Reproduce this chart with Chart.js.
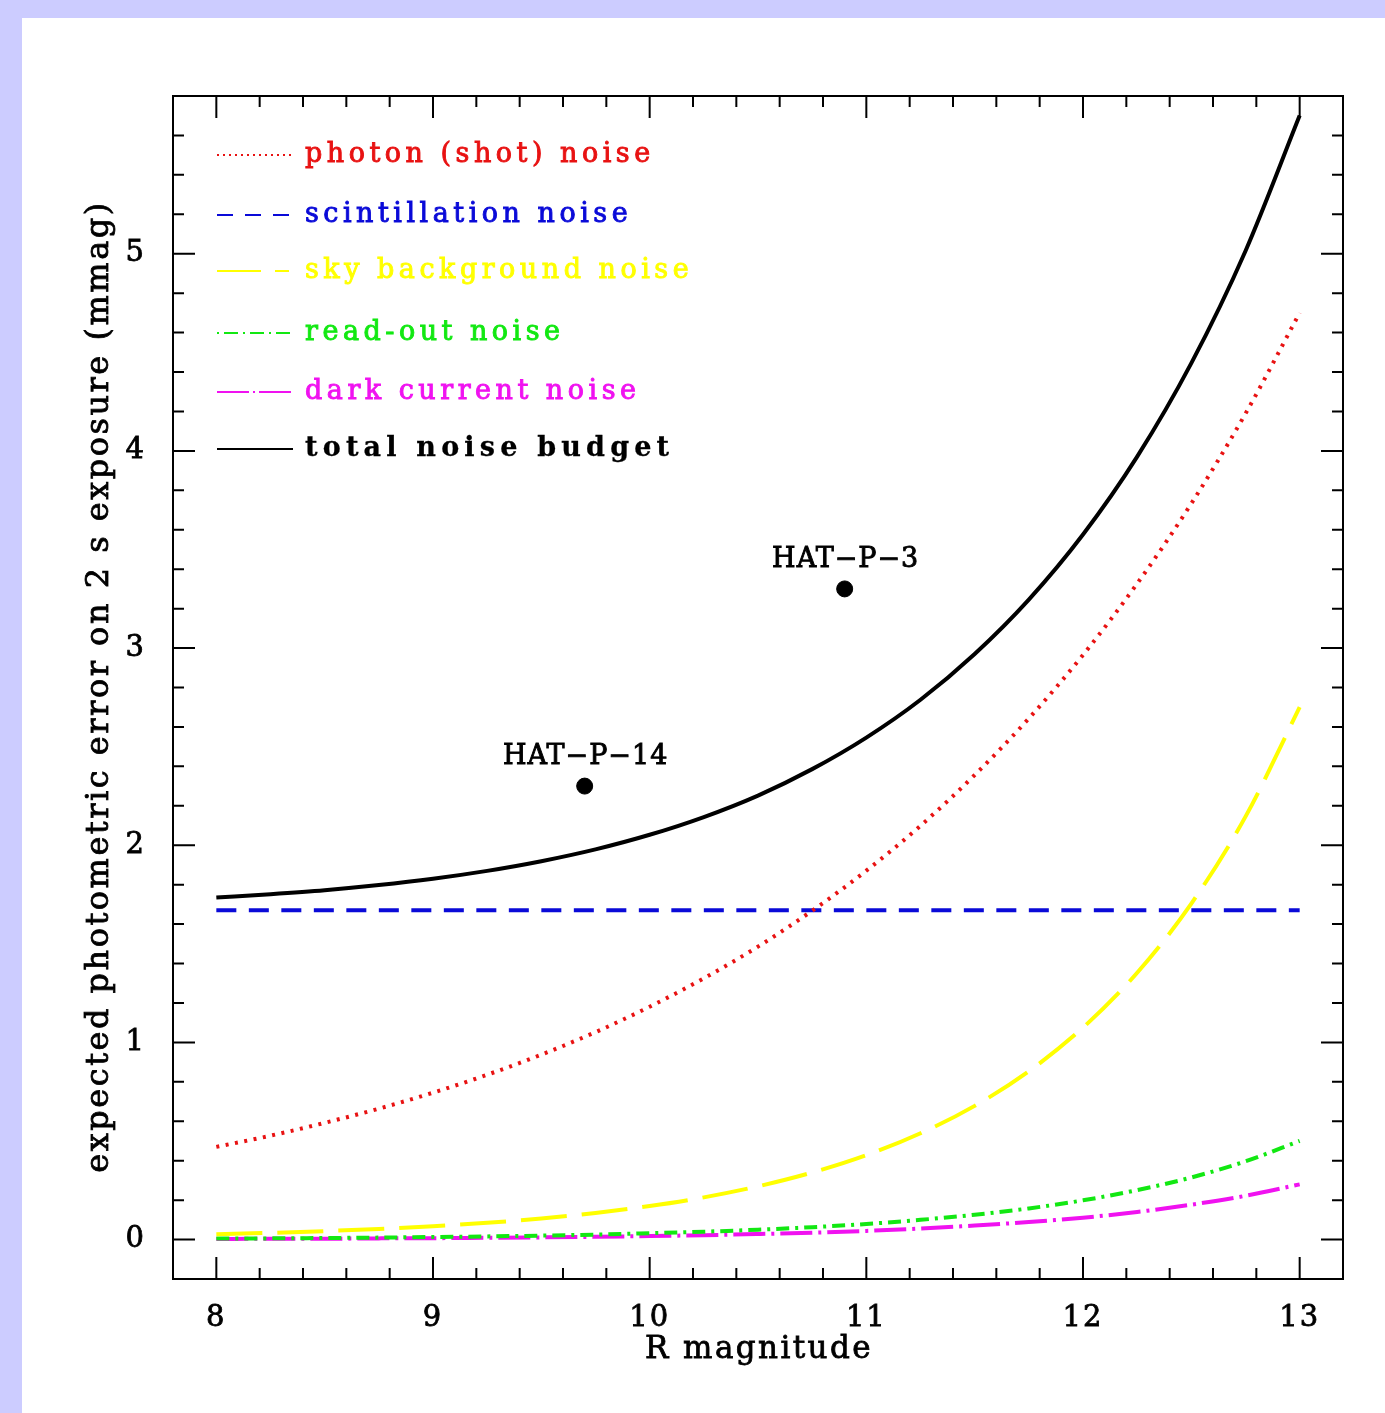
<!DOCTYPE html>
<html>
<head>
<meta charset="utf-8">
<script src="https://cdn.jsdelivr.net/npm/chart.js@4"></script>
<style>
  html, body { margin: 0; padding: 0; background: #ccccff; }
  canvas { display: block; }
</style>
</head>
<body>
<canvas id="noise" width="1385" height="1413"></canvas>
<script>
// R magnitude grid
const mags = [8, 8.25, 8.5, 8.75, 9, 9.25, 9.5, 9.75, 10, 10.25, 10.5, 10.75,
  11, 11.25, 11.5, 11.75, 12, 12.25, 12.5, 12.75, 13];

// noise terms in mmag
const photon = [0.470, 0.527, 0.592, 0.664, 0.745, 0.836, 0.938, 1.052, 1.181, 1.325, 1.486, 1.668,
  1.871, 2.099, 2.356, 2.643, 2.965, 3.327, 3.733, 4.189, 4.700];
const scint = [1.67, 1.67, 1.67, 1.67, 1.67, 1.67, 1.67, 1.67, 1.67, 1.67, 1.67, 1.67,
  1.67, 1.67, 1.67, 1.67, 1.67, 1.67, 1.67, 1.67, 1.67];
const sky = [0.027, 0.034, 0.043, 0.054, 0.068, 0.085, 0.107, 0.135, 0.170, 0.214, 0.270, 0.340,
  0.428, 0.539, 0.678, 0.854, 1.075, 1.353, 1.704, 2.145, 2.700];
const readout = [0.005, 0.006, 0.008, 0.010, 0.013, 0.016, 0.020, 0.025, 0.032, 0.040, 0.050, 0.063,
  0.079, 0.100, 0.126, 0.158, 0.199, 0.251, 0.315, 0.397, 0.500];
const dark = [0.003, 0.004, 0.004, 0.006, 0.007, 0.009, 0.011, 0.014, 0.018, 0.022, 0.028, 0.035,
  0.044, 0.056, 0.071, 0.089, 0.111, 0.140, 0.177, 0.222, 0.280];
const total = [1.735, 1.752, 1.772, 1.798, 1.830, 1.870, 1.919, 1.979, 2.053, 2.143, 2.252, 2.386,
  2.546, 2.738, 2.970, 3.246, 3.576, 3.971, 4.445, 5.014, 5.701];

// measured targets
const hatNames = ["HAT−P−14", "HAT−P−3"];
const hatMag = [9.7, 10.9];
const hatErr = [2.3, 3.3];

const xTicks = [8, 9, 10, 11, 12, 13];
const yTicks = [0, 1, 2, 3, 4, 5];

const xTitle = "R magnitude";
const yTitle = "expected photometric error on 2 s exposure (mmag)";

const FONT = "'DejaVu Serif', serif";

function pts(ys) {
  return mags.map((m, i) => ({ x: m, y: ys[i] }));
}

function curve(label, ys, color, dash, legendDash) {
  return {
    label: label,
    data: pts(ys),
    borderColor: color,
    backgroundColor: color,
    borderWidth: 4,
    borderDash: dash,
    legendDash: legendDash,
    pointRadius: 0,
    cubicInterpolationMode: "monotone",
    fill: false,
  };
}

// text with a hairline stroke so it looks as heavy as the plotted font
function heavyText(ctx, s, x, y, color, w) {
  ctx.fillStyle = color;
  ctx.strokeStyle = color;
  ctx.lineWidth = w;
  ctx.fillText(s, x, y);
  ctx.strokeText(s, x, y);
}

// page background and white panel
const backdrop = {
  id: "backdrop",
  beforeDraw(chart) {
    const ctx = chart.ctx;
    ctx.save();
    ctx.fillStyle = "#ccccff";
    ctx.fillRect(0, 0, chart.width, chart.height);
    ctx.fillStyle = "#ffffff";
    ctx.fillRect(22, 18, chart.width - 22, chart.height - 18);
    ctx.restore();
    ctx.letterSpacing = "2px";
  },
};

// box frame with inward ticks on all four sides, plus axis titles
const frame = {
  id: "frame",
  afterDraw(chart) {
    const { ctx, chartArea: a, scales } = chart;
    const xs = scales.x, ys = scales.y;
    ctx.save();
    ctx.strokeStyle = "#000";
    ctx.lineWidth = 2;
    ctx.strokeRect(a.left, a.top, a.right - a.left, a.bottom - a.top);
    ctx.beginPath();
    for (let i = 39; i <= 66; i++) {
      const px = xs.getPixelForValue(i / 5);
      const len = i % 5 === 0 ? 22 : 11;
      ctx.moveTo(px, a.bottom); ctx.lineTo(px, a.bottom - len);
      ctx.moveTo(px, a.top); ctx.lineTo(px, a.top + len);
    }
    for (let i = -1; i <= 29; i++) {
      const py = ys.getPixelForValue(i / 5);
      const len = i % 5 === 0 ? 22 : 11;
      ctx.moveTo(a.left, py); ctx.lineTo(a.left + len, py);
      ctx.moveTo(a.right, py); ctx.lineTo(a.right - len, py);
    }
    ctx.stroke();

    ctx.textAlign = "center";
    ctx.textBaseline = "middle";
    ctx.letterSpacing = "2.4px";
    ctx.font = "31px " + FONT;
    heavyText(ctx, xTitle, (a.left + a.right) / 2 + 1, 1350, "#000", 0.8);

    ctx.save();
    ctx.translate(100, (a.top + a.bottom) / 2);
    ctx.rotate(-Math.PI / 2);
    ctx.letterSpacing = "2.5px";
    ctx.font = "32px " + FONT;
    heavyText(ctx, yTitle, 1, 0, "#000", 0.8);
    ctx.restore();
    ctx.restore();
  },
};

// legend in the upper left and labels over the two targets
const notes = {
  id: "notes",
  afterDatasetsDraw(chart) {
    const { ctx, chartArea: a, scales } = chart;
    ctx.save();
    ctx.textBaseline = "middle";
    ctx.textAlign = "left";
    const rows = [59, 119, 175, 237, 296, 353];
    rows.forEach((dy, di) => {
      const ds = chart.data.datasets[di];
      const y = a.top + dy;
      ctx.strokeStyle = ds.borderColor;
      ctx.lineWidth = 2;
      ctx.setLineDash(ds.legendDash || []);
      ctx.beginPath();
      ctx.moveTo(a.left + 44, y);
      ctx.lineTo(a.left + 120, y);
      ctx.stroke();
      ctx.setLineDash([]);
      const bold = di === 5;
      ctx.letterSpacing = bold ? "5.2px" : "4.5px";
      ctx.font = (bold ? "bold " : "") + "27px " + FONT;
      heavyText(ctx, ds.label, a.left + 132, y, ds.borderColor, bold ? 0.3 : 0.9);
    });

    ctx.letterSpacing = "1px";
    ctx.font = "27px " + FONT;
    ctx.textAlign = "center";
    hatNames.forEach((n, i) => {
      const px = scales.x.getPixelForValue(hatMag[i]);
      const py = scales.y.getPixelForValue(hatErr[i]);
      heavyText(ctx, n, px + 1, py - 29, "#000", 0.9);
    });
    ctx.restore();
  },
};

const datasets = [
  curve("photon (shot) noise", photon, "#e81212", [3, 6.5], [2, 4]),
  curve("scintillation noise", scint, "#0a0ad8", [20, 12.5], [16, 12]),
  curve("sky background noise", sky, "#ffff00", [46, 15], [44, 14, 14, 40]),
  curve("read-out noise", readout, "#12e812", [13, 6, 3, 6], [2, 5, 14, 5]),
  curve("dark current noise", dark, "#f012f0", [32, 6, 3, 6], [32, 4, 2, 4]),
  curve("total noise budget", total, "#000000", [], []),
  {
    label: "targets",
    data: hatMag.map((m, i) => ({ x: m, y: hatErr[i] })),
    showLine: false,
    pointRadius: 8,
    pointStyle: "circle",
    backgroundColor: "#000",
    borderColor: "#000",
  },
];

new Chart("noise", {
  type: "line",
  data: { datasets: datasets },
  options: {
    responsive: false,
    animation: false,
    devicePixelRatio: 1,
    layout: { padding: { left: 0, top: 96, right: 42, bottom: 0 } },
    plugins: {
      legend: { display: false },
      tooltip: { enabled: false },
    },
    scales: {
      x: {
        type: "linear",
        min: 7.8,
        max: 13.2,
        grid: { display: false },
        border: { display: false },
        afterBuildTicks: (s) => { s.ticks = xTicks.map((v) => ({ value: v })); },
        afterFit: (s) => { s.height = 134; },
        ticks: {
          padding: 14,
          color: "#000",
          textStrokeColor: "#000",
          textStrokeWidth: 0.8,
          maxRotation: 0,
          font: { family: FONT, size: 29 },
        },
      },
      y: {
        type: "linear",
        min: -0.2,
        max: 5.8,
        grid: { display: false },
        border: { display: false },
        afterBuildTicks: (s) => { s.ticks = yTicks.map((v) => ({ value: v })); },
        afterFit: (s) => { s.width = 173; },
        ticks: {
          padding: 19,
          color: "#000",
          textStrokeColor: "#000",
          textStrokeWidth: 0.8,
          font: { family: FONT, size: 29 },
        },
      },
    },
  },
  plugins: [backdrop, frame, notes],
});
</script>
</body>
</html>
